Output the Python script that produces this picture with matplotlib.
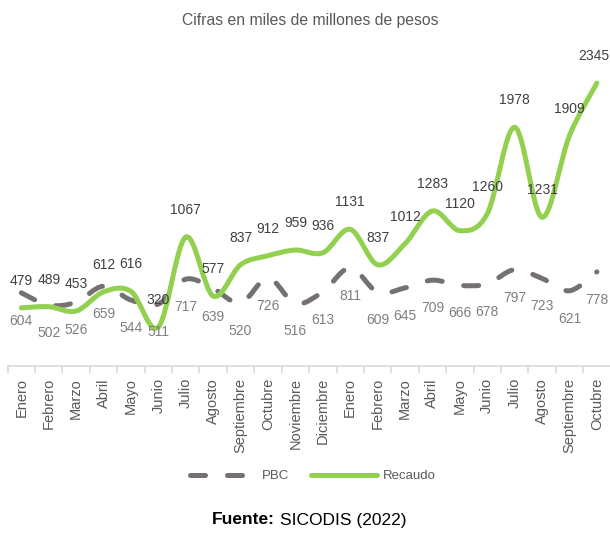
import matplotlib
matplotlib.use('Agg')
import matplotlib.pyplot as plt
from matplotlib.path import Path
from matplotlib.patches import PathPatch
from matplotlib.lines import Line2D
import numpy as np

# datos
meses = ['Enero', 'Febrero', 'Marzo', 'Abril', 'Mayo', 'Junio', 'Julio', 'Agosto',
         'Septiembre', 'Octubre', 'Noviembre', 'Diciembre',
         'Enero', 'Febrero', 'Marzo', 'Abril', 'Mayo', 'Junio', 'Julio', 'Agosto',
         'Septiembre', 'Octubre']
pbc = [604, 502, 526, 659, 544, 511, 717, 639, 520, 726, 516, 613,
       811, 609, 645, 709, 666, 678, 797, 723, 621, 778]
recaudo = [479, 489, 453, 612, 616, 320, 1067, 577, 837, 912, 959, 936,
           1131, 837, 1012, 1283, 1120, 1260, 1978, 1231, 1909, 2345]

FUENTE = ['Liberation Sans', 'DejaVu Sans']
VERDE = '#92D050'
GRIS = '#767171'


def curva_suave(valores):
    # curva tipo Excel: segmentos Bezier con tension 1/6 sobre los puntos
    x = np.arange(len(valores), dtype=float)
    y = np.asarray(valores, dtype=float)
    pts = np.column_stack([x, y])
    n = len(pts)
    verts = [pts[0]]
    codes = [Path.MOVETO]
    for i in range(n - 1):
        p0 = pts[max(i - 1, 0)]
        p1 = pts[i]
        p2 = pts[i + 1]
        p3 = pts[min(i + 2, n - 1)]
        c1 = p1 + (p2 - p0) / 6.0
        c2 = p2 - (p3 - p1) / 6.0
        verts += [c1, c2, p2]
        codes += [Path.CURVE4] * 3
    return Path(verts, codes)


fig = plt.figure(figsize=(6.10, 5.33), dpi=100)
W, H = 610, 533
ax = fig.add_axes([7.6 / W, 1 - 365.6 / H, 603 / W, (365.6 - 60) / H])

lw = 3.6
serie_pbc = PathPatch(curva_suave(pbc), fill=False, edgecolor=GRIS, linewidth=lw,
                      linestyle=(0, (3, 4.4)), capstyle='round', joinstyle='round', zorder=2)
serie_rec = PathPatch(curva_suave(recaudo), fill=False, edgecolor=VERDE, linewidth=lw,
                      capstyle='round', joinstyle='round', zorder=3)
ax.add_patch(serie_pbc)
ax.add_patch(serie_rec)

ax.set_xlim(-0.5, len(meses) - 0.5)
ax.set_ylim(0, (365.6 - 60) / 0.1205)

for i, v in enumerate(recaudo):
    dx = -3 if i == len(recaudo) - 1 else 0  # el ultimo queda pegado al borde
    ax.annotate(str(v), (i, v), xytext=(dx, 27), textcoords='offset pixels',
                ha='center', va='center', fontsize=10, color='#404040', family=FUENTE)
for i, v in enumerate(pbc):
    ax.annotate(str(v), (i, v), xytext=(0, -28), textcoords='offset pixels',
                ha='center', va='center', fontsize=10, color='#7F7F7F', family=FUENTE)

for s in ['top', 'right', 'left']:
    ax.spines[s].set_visible(False)
ax.spines['bottom'].set_color('#D9D9D9')
ax.spines['bottom'].set_linewidth(1.2)
ax.set_yticks([])
ax.set_xticks(range(len(meses)))
ax.set_xticklabels(meses, rotation=90, fontsize=10.5, color='#595959', family=FUENTE)
ax.set_xticks(np.arange(-0.5, len(meses), 1), minor=True)
ax.tick_params(axis='x', which='major', length=0, pad=9)
ax.tick_params(axis='x', which='minor', length=5, width=1.2, color='#D9D9D9')

fig.text(310 / W, 1 - 20 / H, 'Cifras en miles de millones de pesos', ha='center', va='center',
         fontsize=11.3, color='#595959', family=FUENTE)

handles = [Line2D([], [], color=GRIS, linewidth=lw, linestyle=(0, (3, 4.4)), dash_capstyle='round'),
           Line2D([], [], color=VERDE, linewidth=lw, solid_capstyle='round')]
fig.legend(handles, ['PBC', 'Recaudo'], loc='center', bbox_to_anchor=(313 / W, 1 - 476 / H),
           ncol=2, frameon=False, handlelength=5, handletextpad=0.4, columnspacing=1.7,
           prop={'family': FUENTE, 'size': 9.5}, labelcolor='#595959')

fig.text(275 / W, 1 - 520 / H, 'Fuente:', ha='right', va='center', fontsize=12.5,
         fontweight='bold', color='black', family=FUENTE)
fig.text(280 / W, 1 - 520 / H, 'SICODIS (2022)', ha='left', va='center', fontsize=12.5,
         color='black', family=FUENTE)

fig.savefig('out.png', dpi=100)
